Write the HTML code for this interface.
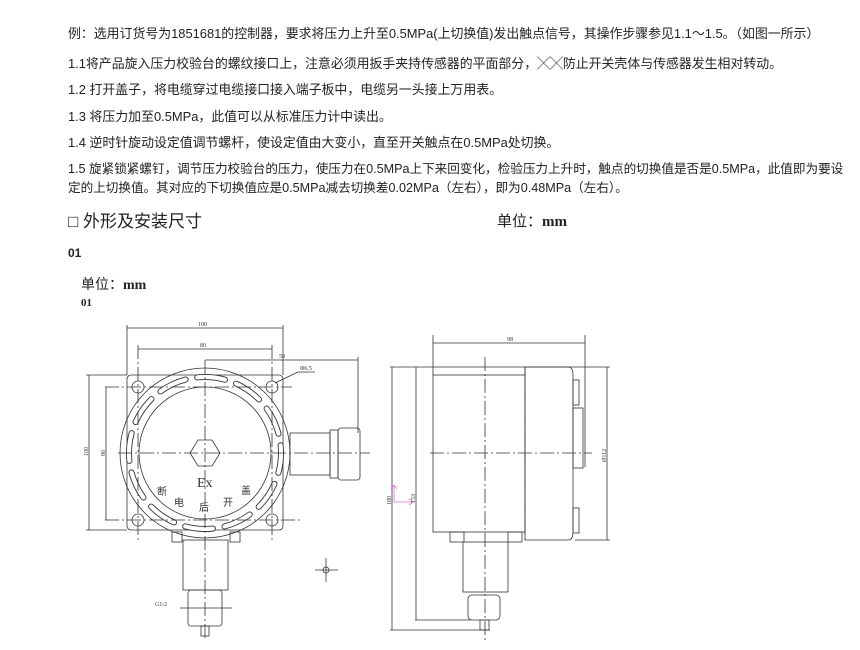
<!DOCTYPE html>
<html><head><meta charset="utf-8"><style>
body{margin:0;width:860px;height:650px;background:#fff;position:relative;overflow:hidden;font-family:"Liberation Sans","Noto Sans CJK SC",sans-serif;color:#222}
.t{position:absolute;left:68px;font-size:12.9px;white-space:nowrap;line-height:19px}
</style></head><body>
<div class="t" style="top:24px">例：选用订货号为1851681的控制器，要求将压力上升至0.5MPa(上切换值)发出触点信号，其操作步骤参见1.1～1.5。（如图一所示）</div>
<div class="t" style="top:54px">1.1将产品旋入压力校验台的螺纹接口上，注意必须用扳手夹持传感器的平面部分，╳╳防止开关壳体与传感器发生相对转动。</div>
<div class="t" style="top:80px">1.2 打开盖子，将电缆穿过电缆接口接入端子板中，电缆另一头接上万用表。</div>
<div class="t" style="top:107px">1.3 将压力加至0.5MPa，此值可以从标准压力计中读出。</div>
<div class="t" style="top:133px">1.4 逆时针旋动设定值调节螺杆，使设定值由大变小，直至开关触点在0.5MPa处切换。</div>
<div class="t" style="top:160px;font-size:12.6px">1.5 旋紧锁紧螺钉，调节压力校验台的压力，使压力在0.5MPa上下来回变化，检验压力上升时，触点的切换值是否是0.5MPa，此值即为要设<br>定的上切换值。其对应的下切换值应是0.5MPa减去切换差0.02MPa（左右），即为0.48MPa（左右）。</div>
<div class="t" style="top:210px;font-size:17px;line-height:24px">□ 外形及安装尺寸</div>
<div class="t" style="top:212px;left:497px;font-size:15px">单位：<b style="font-family:'Liberation Serif',serif">mm</b></div>
<div class="t" style="top:244px;font-weight:bold;font-size:12px">01</div>
<div class="t" style="top:275px;left:81px;font-size:14px">单位：<b style="font-family:'Liberation Serif',serif">mm</b></div>
<div class="t" style="top:294px;left:81px;font-weight:bold;font-size:11px;font-family:'Liberation Serif',serif">01</div>
<svg style="position:absolute;left:0;top:0" width="860" height="650" fill="none" stroke="#333" stroke-width="0.8" font-family="Liberation Serif,serif">
<rect x="127" y="375" width="156" height="155" rx="4"/>
<circle cx="205" cy="453" r="85"/>
<circle cx="205" cy="453" r="66"/>
<circle cx="205" cy="453" r="76" stroke-width="6" stroke-dasharray="28 11.8" stroke-dashoffset="8" stroke-linecap="round"/>
<circle cx="205" cy="453" r="76" stroke="#fff" stroke-width="4.2" stroke-dasharray="28 11.8" stroke-dashoffset="8" stroke-linecap="round"/>
<circle cx="138" cy="387" r="6"/><circle cx="272" cy="387" r="6"/><circle cx="138" cy="520" r="6"/><circle cx="272" cy="520" r="6"/>
<polygon points="190,453 198,440 212,440 220,453 212,466 198,466"/>
<g stroke-dasharray="14 3 2 3">
<line x1="205" y1="360" x2="205" y2="640"/><line x1="118" y1="453" x2="370" y2="453"/>
<line x1="138" y1="345" x2="138" y2="540"/><line x1="272" y1="345" x2="272" y2="540"/>
<line x1="105" y1="387" x2="292" y2="387"/><line x1="105" y1="520" x2="300" y2="520"/>
</g>
<line x1="127" y1="325" x2="127" y2="375"/><line x1="283" y1="325" x2="283" y2="375"/>
<line x1="127" y1="328" x2="283" y2="328"/><line x1="138" y1="349" x2="272" y2="349"/>
<line x1="205" y1="360" x2="358" y2="360"/><line x1="358" y1="357" x2="358" y2="433"/>
<line x1="86" y1="375" x2="127" y2="375"/><line x1="86" y1="530" x2="127" y2="530"/>
<line x1="89" y1="375" x2="89" y2="530"/><line x1="106" y1="387" x2="106" y2="520"/>
<line x1="275" y1="383" x2="298" y2="372"/><line x1="298" y1="372" x2="315" y2="372"/>
<rect x="290" y="433" width="40" height="42"/><rect x="330" y="430" width="8" height="48"/><rect x="338" y="428" width="22" height="52" rx="3"/>
<rect x="172" y="532" width="10" height="10"/><rect x="230" y="532" width="10" height="10"/>
<rect x="183" y="540" width="45" height="50"/><rect x="188" y="590" width="34" height="36" rx="3"/><rect x="201" y="626" width="8" height="10"/>
<line x1="180" y1="608" x2="232" y2="608"/>
<line x1="315" y1="570" x2="338" y2="570"/><line x1="326" y1="558" x2="326" y2="582"/><circle cx="326" cy="570" r="3"/>
<g fill="#333" stroke="none" font-size="6">
<text x="198" y="326">100</text><text x="200" y="347">80</text><text x="279" y="358">59</text><text x="300" y="370">Φ6.5</text>
<text x="155" y="606">G1/2</text>
<text transform="translate(88,456) rotate(-90)">100</text><text transform="translate(105,456) rotate(-90)">86</text>
<text x="197" y="487" font-size="14">Ex</text>
<g font-family="Noto Sans CJK SC,sans-serif" font-size="10"><text x="157" y="495">断</text><text x="174" y="506">电</text><text x="199" y="511">后</text><text x="223" y="506">开</text><text x="241" y="494">盖</text></g>
</g>
<line x1="390" y1="367" x2="610" y2="367"/>
<rect x="433" y="375" width="92" height="157"/><line x1="433" y1="367" x2="433" y2="375"/>
<path d="M525 367 H568 Q573 367 573 375 V532 Q573 540 568 540 H525 Z"/>
<rect x="573" y="380" width="6" height="25"/><rect x="573" y="408" width="10" height="60"/><rect x="573" y="508" width="6" height="25"/>
<line x1="433" y1="335" x2="433" y2="367"/><line x1="585" y1="335" x2="585" y2="467"/><line x1="433" y1="343" x2="585" y2="343"/>
<line x1="390" y1="630" x2="490" y2="630"/><line x1="415" y1="620" x2="470" y2="620"/>
<line x1="392" y1="367" x2="392" y2="630"/><line x1="416" y1="367" x2="416" y2="620"/>
<line x1="575" y1="540" x2="610" y2="540"/><line x1="607" y1="367" x2="607" y2="540"/>
<g stroke-dasharray="14 3 2 3"><line x1="485" y1="357" x2="485" y2="642"/><line x1="430" y1="453" x2="592" y2="453"/><line x1="525" y1="367" x2="525" y2="540"/></g>
<rect x="450" y="532" width="14" height="10"/><rect x="508" y="532" width="14" height="10"/>
<rect x="463" y="542" width="45" height="50"/><rect x="468" y="595" width="32" height="25" rx="4"/><rect x="480" y="620" width="9" height="10"/>
<path d="M394 502 V486 M391 489 L394 485 L397 489 M394 502 H412 M409 499 L413 502 L409 505" stroke="#e070e0"/>
<g fill="#333" stroke="none" font-size="6"><text x="507" y="341">98</text>
<text transform="translate(391,505) rotate(-90)">180</text><text transform="translate(415,503) rotate(-90)">153</text><text transform="translate(606,462) rotate(-90)">Ø112</text></g>
</svg>
</body></html>
